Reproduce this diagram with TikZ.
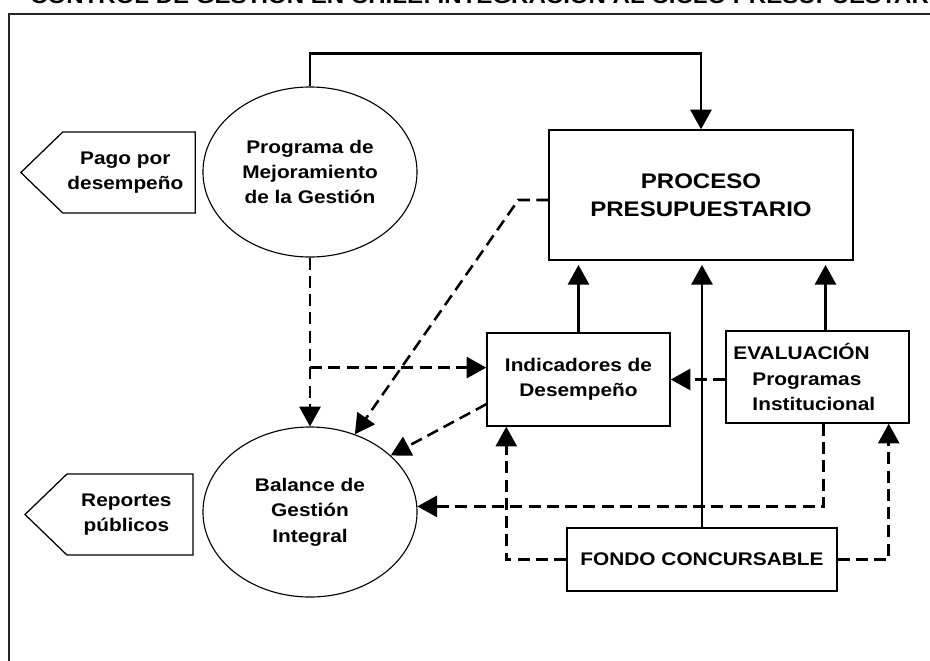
\documentclass[tikz,border=0pt]{standalone}
\usepackage{fontspec}
\setmainfont{Liberation Sans}[FakeStretch=1.14]
\usetikzlibrary{positioning, arrows.meta, calc, shapes.geometric, shapes.symbols}

\begin{document}
\begin{tikzpicture}[
  x=0.025cm, y=-0.025cm,
  font=\fontsize{13}{18}\selectfont\bfseries,
  oval/.style={draw, ellipse, line width=0.8pt, minimum width=5.35cm, minimum height=4.25cm,
    inner sep=0pt, align=center},
  box/.style={draw, rectangle, line width=1pt, align=center, inner sep=3pt},
  tag/.style={draw, signal, signal to=west, signal from=nowhere, signal pointer angle=88,
    line width=0.9pt, minimum width=4.2cm, minimum height=2.025cm, align=center},
  flow/.style={-{Triangle[length=14pt, width=15pt]}, line width=1.9pt},
  dflow/.style={flow, line width=1.8pt, dash pattern=on 8.5pt off 4.5pt}
]
\useasboundingbox (0,0) rectangle (930,660);
\clip (0,0) rectangle (930,660);

% --- frame and cut-off title ---
\draw[line width=1.1pt, black!85] (9,680) -- (9,14) -- (950,14);
\node[anchor=base west, inner sep=0pt, font=\fontsize{15}{17}\selectfont\bfseries] (title) at (30,3)
  {CONTROL DE GESTIÓN EN CHILE: INTEGRACIÓN AL CICLO PRESUPUESTARIO};

% --- left column: instruments and their outputs ---
\node[oval] (pmg) at (310,172) {Programa de\\Mejoramiento\\de la Gestión};
\node[oval] (bgi) at (310,512) {Balance de\\Gestión\\Integral};
\node[tag] (pago) at (129,172.5) {Pago por\kern0.18cm\\desempeño\kern0.18cm};
\node[tag] (reportes) at (130,514.5) {Reportes\kern0.18cm\\públicos\kern0.18cm};

% --- right side: budget process and its inputs ---
\node[box, minimum width=7.6cm, minimum height=3.25cm, font=\fontsize{15}{20}\selectfont\bfseries]
  (proceso) at (701,195) {PROCESO\\PRESUPUESTARIO};
\node[box, minimum width=4.575cm, minimum height=2.325cm] (indic) at (578.5,379.5)
  {Indicadores de\\Desempeño};
\node[box, minimum width=4.575cm, minimum height=2.3cm, text width=4.2cm, align=left]
  (eval) at (817.5,377)
  {EVALUACIÓN\\\hspace*{0.475cm}Programas\\\hspace*{0.475cm}Institucional};
\node[box, minimum width=6.75cm, minimum height=1.575cm] (fondo) at (702,559.5)
  {FONDO CONCURSABLE};

% solid links into the budget process
\coordinate (evaltop) at ($(eval.north)+(8,0)$);
\draw[flow] (pmg.north) -- ++(0,-33) -| (proceso.north);
\draw[flow, shorten >=3pt] (indic.north) -- (indic.north |- proceso.south);
\draw[flow, shorten >=3pt] (fondo.north) -- (fondo.north |- proceso.south);
\draw[flow, shorten >=3pt] (evaltop) -- (evaltop |- proceso.south);

% dashed links
\coordinate (split) at ($(pmg.south)+(0,110)$);
\coordinate (evalbot) at ($(eval.south)+(6,0)$);
\draw[dflow] (pmg.south) -- (bgi.north);
\draw[dflow] (split) -- (split -| indic.west);
\draw[dflow] ($(proceso.west)+(0,5)$) -- ++(-30,0) -- (bgi.60);
\draw[dflow] (indic.195) -- (bgi.35);
\draw[dflow] (eval.west |- indic.east) -- (indic.east);
\draw[dflow] (evalbot) |- (bgi.3);
\draw[dflow] (fondo.west) -| ($(indic.south west)+(20,0)$);
\draw[dflow] (fondo.east) -| ($(eval.south east)+(-21,0)$);

\end{tikzpicture}
\end{document}
